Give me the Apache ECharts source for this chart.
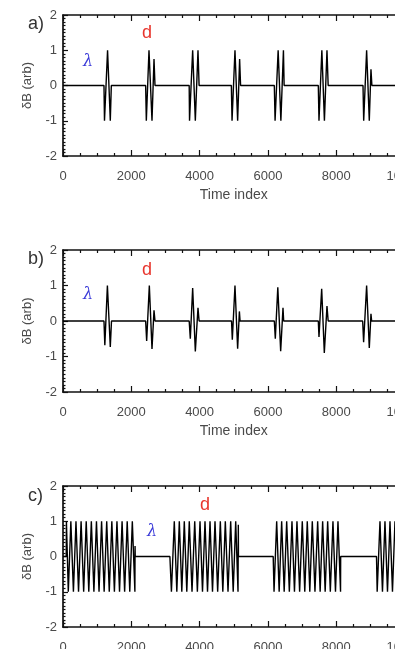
<!DOCTYPE html>
<html>
<head>
<meta charset="utf-8">
<script src="https://cdn.jsdelivr.net/npm/echarts@6/dist/echarts.min.js"></script>
<style>
  html, body { margin: 0; padding: 0; background: #fff; overflow: hidden; }
  #main { width: 440px; height: 680px; }
</style>
</head>
<body>
<div id="main"></div>
<script>
// axis ranges
const xRange = [0, 10000]
const yRange = [-2, 2]
const panelNames = ['a)', 'b)', 'c)']

// a) short packets, flat amplitude
const panelA = [
  [0, 0], [1200, 0], [1215, -1], [1305, 1], [1385, -1], [1415, 0],
  [2420, 0], [2440, -1], [2518, 1], [2606, -1], [2665, 0.75], [2694, 0],
  [3695, 0], [3705, -1], [3797, 1], [3875, -1], [3953, 1], [3985, 0],
  [4930, 0], [4950, -1], [5036, 1], [5114, -1], [5172, 0.75], [5200, 0],
  [6188, 0], [6210, -1], [6300, 1], [6380, -1], [6455, 1], [6475, 0],
  [7476, 0], [7496, -1], [7580, 1], [7655, -1], [7730, 1], [7765, 0],
  [8785, 0], [8805, -1], [8891, 1], [8969, -1], [9018, 0.46], [9045, 0],
  [10000, 0]
]

// b) short packets, tapered
const panelB = [
  [0, 0], [1200, 0], [1225, -0.68], [1300, 1], [1385, -0.73], [1420, 0],
  [2420, 0], [2450, -0.56], [2528, 1], [2606, -0.79], [2665, 0.3], [2694, 0],
  [3695, 0], [3728, -0.5], [3797, 0.93], [3875, -0.86], [3953, 0.37], [3985, 0],
  [4935, 0], [4958, -0.53], [5036, 1], [5114, -0.78], [5165, 0.27], [5185, 0],
  [6188, 0], [6217, -0.5], [6290, 0.95], [6374, -0.85], [6442, 0.37], [6462, 0],
  [7476, 0], [7496, -0.45], [7575, 0.91], [7652, -0.9], [7730, 0.42], [7765, 0],
  [8775, 0], [8803, -0.6], [8891, 1], [8969, -0.76], [9018, 0.2], [9038, 0],
  [10000, 0]
]

// c) long packets
const panelC = [
  [0, 0], [95, 0], [100, 1], [155, -1], [230, 1], [305, -1], [380, 1], [455, -1],
  [530, 1], [605, -1], [680, 1], [755, -1], [830, 1], [905, -1], [980, 1],
  [1055, -1], [1130, 1], [1205, -1], [1280, 1], [1355, -1], [1430, 1], [1505, -1],
  [1580, 1], [1655, -1], [1730, 1], [1805, -1], [1880, 1], [1955, -1], [2030, 1],
  [2105, -1], [2110, 0.3], [2115, 0],
  [3130, 0], [3175, -1], [3259, 1], [3333, -1], [3406, 1], [3479, -1], [3552, 1],
  [3625, -1], [3698, 1], [3778, -1], [3857, 1], [3935, -1], [4012, 1], [4085, -1],
  [4158, 1], [4232, -1], [4305, 1], [4378, -1], [4451, 1], [4529, -1], [4607, 1],
  [4680, -1], [4753, 1], [4832, -1], [4910, 1], [4984, -1], [5057, 1], [5125, -1],
  [5134, 0.9], [5138, 0],
  [6155, 0], [6180, -1], [6257, 1], [6330, -1], [6403, 1], [6477, -1], [6550, 1],
  [6628, -1], [6705, 1], [6778, -1], [6851, 1], [6929, -1], [7007, 1], [7080, -1],
  [7153, 1], [7227, -1], [7300, 1], [7378, -1], [7457, 1], [7530, -1], [7603, 1],
  [7677, -1], [7750, 1], [7828, -1], [7905, 1], [7979, -1], [8052, 1], [8127, -1],
  [8131, 0],
  [9180, 0], [9200, -1], [9282, 1], [9355, -1], [9428, 1], [9502, -1], [9575, 1],
  [9648, -1], [9721, 1], [9796, -1], [9871, 1], [9946, -1], [10000, 0.3]
]

const panels = [panelA, panelB, panelC]
const gridTops = [15, 250, 486]
const gridHeights = [141, 142, 141]

// d and lambda annotations [x, y] in pixels
const dPos = [[147, 33], [147, 270], [205, 505]]
const lambdaPos = [[88, 62], [88, 295], [152, 532]]
const namePos = [25, 260, 497]

const FONT = 'Liberation Sans'
const chart = echarts.init(document.getElementById('main'), null, { renderer: 'canvas' })

const grid = []
const xAxis = []
const yAxis = []
const series = []
const graphic = []

const lineStyle = { color: '#111', width: 1.7 }
const tickStyle = { color: '#111', width: 1.2 }

panels.forEach((data, i) => {
  grid.push({ left: 63, top: gridTops[i], width: 341.5, height: gridHeights[i] })
  const xBase = {
    gridIndex: i,
    type: 'value',
    min: xRange[0],
    max: xRange[1],
    interval: 2000,
    axisLine: { onZero: false, lineStyle: lineStyle },
    axisTick: { inside: true, length: 6, lineStyle: tickStyle },
    minorTick: { show: true, splitNumber: 4, length: 3, lineStyle: tickStyle },
    splitLine: { show: false },
    minorSplitLine: { show: false }
  }
  xAxis.push(Object.assign({}, xBase, {
    position: 'bottom',
    axisLabel: { margin: 14, color: '#4a4a4a', fontSize: 13, fontFamily: FONT, formatter: v => String(v) },
    name: 'Time index',
    nameLocation: 'middle',
    nameGap: 32,
    nameTextStyle: { color: '#4a4a4a', fontSize: 14, fontFamily: FONT }
  }))
  xAxis.push(Object.assign({}, xBase, {
    position: 'top',
    axisLabel: { show: false }
  }))
  const yBase = {
    gridIndex: i,
    type: 'value',
    min: yRange[0],
    max: yRange[1],
    interval: 1,
    axisLine: { onZero: false, lineStyle: lineStyle },
    axisTick: { inside: true, length: 5, lineStyle: tickStyle },
    minorTick: { show: true, splitNumber: 10, length: 2.5, lineStyle: tickStyle },
    splitLine: { show: false },
    minorSplitLine: { show: false }
  }
  yAxis.push(Object.assign({}, yBase, {
    position: 'left',
    axisLabel: { margin: 6, color: '#4a4a4a', fontSize: 13, fontFamily: FONT },
    name: 'δB (arb)',
    nameLocation: 'middle',
    nameRotate: 90,
    nameGap: 29,
    nameTextStyle: { color: '#4a4a4a', fontSize: 13, fontFamily: FONT }
  }))
  yAxis.push(Object.assign({}, yBase, {
    position: 'right',
    axisLabel: { show: false }
  }))
  series.push({
    type: 'line',
    xAxisIndex: i * 2,
    yAxisIndex: i * 2,
    data: data,
    showSymbol: false,
    symbol: 'none',
    clip: true,
    lineStyle: { color: '#000', width: 1.4 },
    animation: false
  })
  graphic.push({
    type: 'text',
    left: 28,
    top: namePos[i] - 10,
    style: { text: panelNames[i], fontSize: 18, fill: '#333', fontFamily: FONT }
  })
  graphic.push({
    type: 'text',
    x: dPos[i][0],
    y: dPos[i][1],
    style: { text: 'd', fontSize: 18, fill: '#e8342c', fontFamily: FONT, align: 'center', verticalAlign: 'middle' }
  })
  graphic.push({
    type: 'text',
    x: lambdaPos[i][0],
    y: lambdaPos[i][1],
    style: { text: 'λ', fontSize: 16, fill: '#3a3ad8', fontFamily: 'DejaVu Serif', fontStyle: 'italic', align: 'center', verticalAlign: 'middle' }
  })
})

chart.setOption({
  backgroundColor: '#fff',
  animation: false,
  grid,
  xAxis,
  yAxis,
  series,
  graphic
})
</script>
</body>
</html>
